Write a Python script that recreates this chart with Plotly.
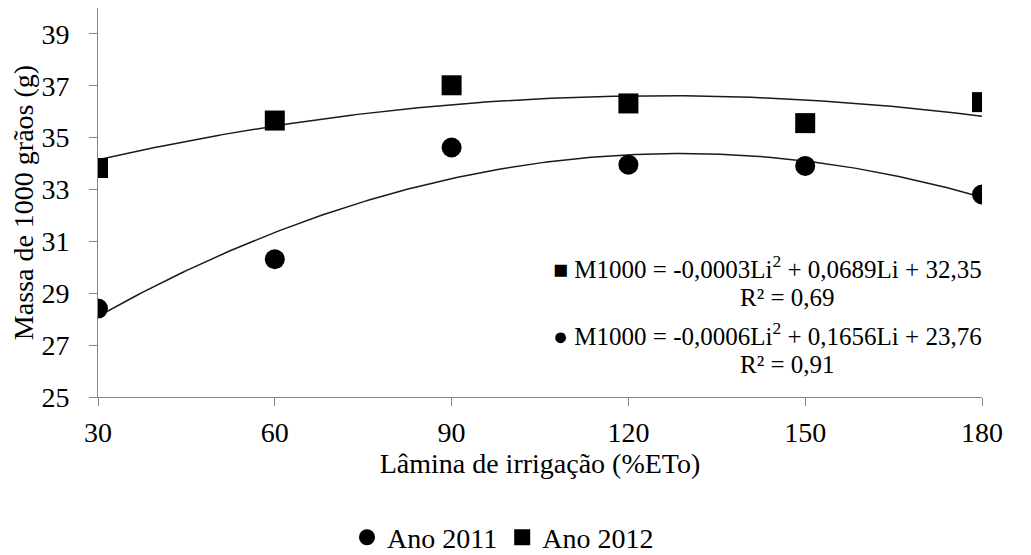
import numpy as np
import plotly.graph_objects as go

# Data
laminas = [30, 60, 90, 120, 150, 180]
massa_2011 = [28.41, 30.31, 34.62, 33.96, 33.91, 32.81]
massa_2012 = [33.83, 35.66, 37.02, 36.32, 35.56, 36.37]
y_ticks = [25, 27, 29, 31, 33, 35, 37, 39]
x_ticks = [30, 60, 90, 120, 150, 180]
eq_2012 = "■ M1000 = -0,0003Li<sup>2</sup> + 0,0689Li + 32,35"
r2_2012 = "R² = 0,69"
eq_2011 = "● M1000 = -0,0006Li<sup>2</sup> + 0,1656Li + 23,76"
r2_2011 = "R² = 0,91"

FONT = "Liberation Serif, Times New Roman, serif"
FS = 28
FS_EQ = 25
AXIS_COLOR = "#868686"
OFF = 8  # page body margin of the browser

# plot area in figure pixels
L, R, T, B = 90, 974, 0, 393

# polynomial trendlines (order 2) fitted to the data, as in the source
xs = np.linspace(min(laminas), max(laminas), 200)
fit_2011 = np.polyval(np.polyfit(laminas, massa_2011, 2), xs)
fit_2012 = np.polyval(np.polyfit(laminas, massa_2012, 2), xs)

fig = go.Figure()
fig.add_trace(go.Scatter(x=xs, y=fit_2012, mode="lines",
                         line=dict(color="#1a1a1a", width=1.5),
                         showlegend=False, hoverinfo="skip"))
fig.add_trace(go.Scatter(x=xs, y=fit_2011, mode="lines",
                         line=dict(color="#1a1a1a", width=1.5),
                         showlegend=False, hoverinfo="skip"))
fig.add_trace(go.Scatter(x=laminas, y=massa_2011, mode="markers", name="Ano 2011",
                         marker=dict(symbol="circle", size=20, color="black")))
fig.add_trace(go.Scatter(x=laminas, y=massa_2012, mode="markers", name="Ano 2012",
                         marker=dict(symbol="square", size=20, color="black")))

def px_to_paper(sx, sy):
    fx, fy = sx - OFF, sy - OFF
    return (fx - L) / (R - L), (B - fy) / (B - T)

lx, ly = px_to_paper(503, 543)

fig.update_layout(
    width=1031, height=555,
    margin=dict(l=L, r=1031 - R, t=T, b=555 - B),
    paper_bgcolor="white", plot_bgcolor="white",
    font=dict(family=FONT, size=FS, color="black"),
    showlegend=True,
    legend=dict(orientation="h", x=lx, xanchor="center", y=ly, yanchor="middle",
                font=dict(family=FONT, size=FS, color="black"),
                itemwidth=30, itemsizing="trace", traceorder="normal",
                borderwidth=0),
    xaxis=dict(range=[30, 180], tickvals=x_ticks, ticktext=[str(v) for v in x_ticks],
               showline=True, linecolor=AXIS_COLOR, linewidth=1,
               ticks="outside", tickcolor=AXIS_COLOR, ticklen=8, tickwidth=1,
               showgrid=False, zeroline=False, automargin=False,
               ticklabelstandoff=2,
               tickfont=dict(family=FONT, size=FS, color="black"),
               title=dict(text="Lâmina de irrigação (%ETo)", standoff=0,
                          font=dict(family=FONT, size=FS, color="black"))),
    yaxis=dict(range=[25, 40], tickvals=y_ticks, ticktext=[str(v) for v in y_ticks],
               showline=True, linecolor=AXIS_COLOR, linewidth=1,
               ticks="outside", tickcolor=AXIS_COLOR, ticklen=8, tickwidth=1,
               showgrid=False, zeroline=False, automargin=False,
               ticklabelstandoff=14,
               tickfont=dict(family=FONT, size=FS, color="black"),
               title=dict(text="Massa de 1000 grãos (g)", standoff=10,
                          font=dict(family=FONT, size=FS, color="black"))),
)

ann_font = dict(family=FONT, size=FS_EQ, color="black")
labels = [
    (eq_2012, 984, 270, "right"),
    (r2_2012, 787, 300, "center"),
    (eq_2011, 984, 337, "right"),
    (r2_2011, 787, 368, "center"),
]
for text, sx, sy, anchor in labels:
    ax, ay = px_to_paper(sx, sy)
    fig.add_annotation(x=ax, y=ay, xref="paper", yref="paper", text=text,
                       showarrow=False, font=ann_font, xanchor=anchor, yanchor="middle")

fig.write_html("out.html")
